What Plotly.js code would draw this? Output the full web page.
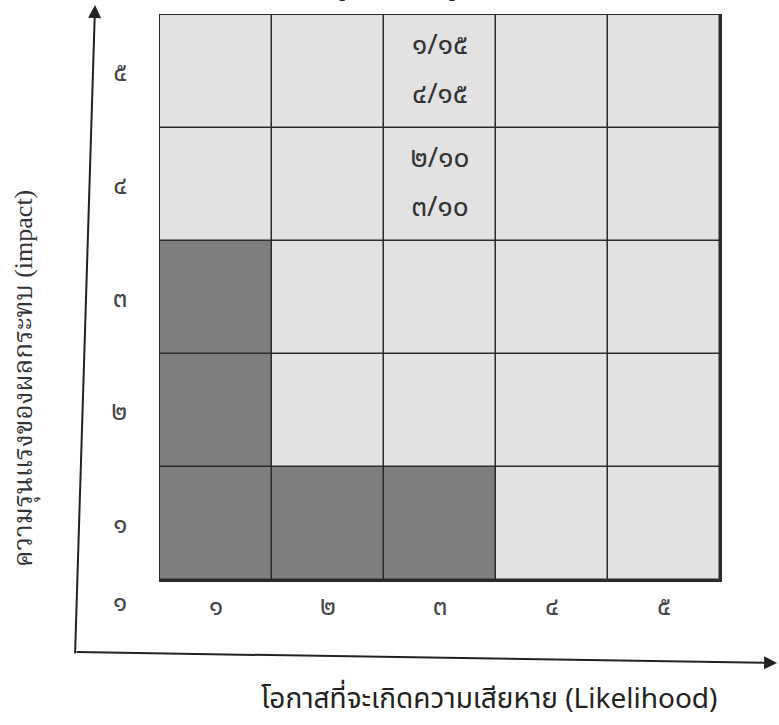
<!DOCTYPE html>
<html>
<head>
<meta charset="utf-8">
<script src="https://cdn.plot.ly/plotly-3.0.1.min.js"></script>
<style>html,body{margin:0;padding:0;background:#fff;}#chart{width:779px;height:725px;}</style>
</head>
<body>
<div id="chart"></div>
<script>
// Likelihood (x) and Impact (y) levels
const likelihood = [1, 2, 3, 4, 5];
const impact = [1, 2, 3, 4, 5];
const tickLabels = ["๑", "๒", "๓", "๔", "๕"];
// 1 = shaded (dark) cell, 0 = light cell; rows = impact 1..5, cols = likelihood 1..5
const shaded = [
  [1, 1, 1, 0, 0],
  [1, 0, 0, 0, 0],
  [1, 0, 0, 0, 0],
  [0, 0, 0, 0, 0],
  [0, 0, 0, 0, 0]
];
// text written inside cells (two lines per cell)
const noteX = [3, 3];
const noteY = [5, 4];
const noteText = [["๑/๑๕", "๔/๑๕"], ["๒/๑๐", "๓/๑๐"]];
const cornerLabel = "๑";
const xTitle = "โอกาสที่จะเกิดความเสียหาย (Likelihood)";
const yTitle = "ความรุนแรงของผลกระทบ (impact)";
const topTitle = "รูปที่ ๓ แผนภูมิความเสี่ยง";

const FONT = "Noto Sans Thai, Noto Sans, DejaVu Sans, sans-serif";

const heat = {
  type: "heatmap",
  x: likelihood, y: impact, z: shaded,
  colorscale: [[0, "#e2e2e2"], [1, "#7e7e7e"]],
  zmin: 0, zmax: 1, showscale: false,
  xgap: 1.5, ygap: 1.5, hoverinfo: "skip"
};
// each cell holds two lines: upper line above, lower line below the cell centre
const LINE_OFF = 0.22;
const nx = [], ny = [], nt = [];
noteText.forEach((lines, i) => {
  lines.forEach((t, j) => {
    nx.push(noteX[i]);
    ny.push(noteY[i] + (j === 0 ? LINE_OFF : -LINE_OFF));
    nt.push(t);
  });
});
const notes = {
  type: "scatter", mode: "text",
  x: nx, y: ny, text: nt,
  textfont: {family: FONT, size: 28, color: "#333"},
  hoverinfo: "skip"
};

const layout = {
  width: 779, height: 725,
  margin: {l: 160, r: 59, t: 15, b: 145},
  paper_bgcolor: "#ffffff",
  plot_bgcolor: "#2a2a2a",
  showlegend: false,
  font: {family: FONT, color: "#333"},
  xaxis: {
    range: [0.5, 5.5], tickvals: likelihood, ticktext: tickLabels,
    showgrid: false, zeroline: false, showline: true, mirror: true,
    linecolor: "#2a2a2a", linewidth: 1.5, ticks: "",
    ticklabelstandoff: 2, tickfont: {family: FONT, size: 26, color: "#444"},
    fixedrange: true
  },
  yaxis: {
    range: [0.5, 5.5], tickvals: impact, ticktext: tickLabels,
    showgrid: false, zeroline: false, showline: true, mirror: true,
    linecolor: "#2a2a2a", linewidth: 1.5, ticks: "",
    ticklabelstandoff: 26, tickfont: {family: FONT, size: 26, color: "#444"},
    fixedrange: true
  },
  annotations: [
    {xref: "paper", yref: "paper", x: -0.071, y: -0.041, xanchor: "center", yanchor: "middle",
     text: cornerLabel, showarrow: false, font: {family: FONT, size: 26, color: "#444"}},
    {xref: "paper", yref: "paper", x: 0.5875, y: -0.212, xanchor: "center", yanchor: "middle",
     text: xTitle, showarrow: false, font: {family: FONT, size: 28, color: "#222"}},
    {xref: "paper", yref: "paper", x: -0.241, y: 0.356, xanchor: "center", yanchor: "middle",
     text: yTitle, textangle: -90,
     showarrow: false, font: {family: "Liberation Serif, Noto Serif Thai, serif", size: 26, color: "#333"}},
    {xref: "paper", yref: "paper", x: 0.52, y: 1.015, yanchor: "bottom", text: "<b>" + topTitle + "</b>",
     showarrow: false, font: {family: FONT, size: 22, color: "#222"}},
    // vertical axis arrow
    {xref: "paper", yref: "paper", x: -0.116, y: 1.0177, axref: "pixel", ayref: "pixel",
     ax: -20, ay: 650, text: "", showarrow: true, arrowhead: 2, arrowsize: 1.3, arrowwidth: 2, arrowcolor: "#222"},
    // horizontal axis arrow
    {xref: "paper", yref: "paper", x: 1.102, y: -0.147, axref: "pixel", ayref: "pixel",
     ax: -702, ay: -11, text: "", showarrow: true, arrowhead: 2, arrowsize: 1.3, arrowwidth: 2, arrowcolor: "#222"}
  ]
};

Plotly.newPlot("chart", [heat, notes], layout, {displayModeBar: false, staticPlot: true});
</script>
</body>
</html>
